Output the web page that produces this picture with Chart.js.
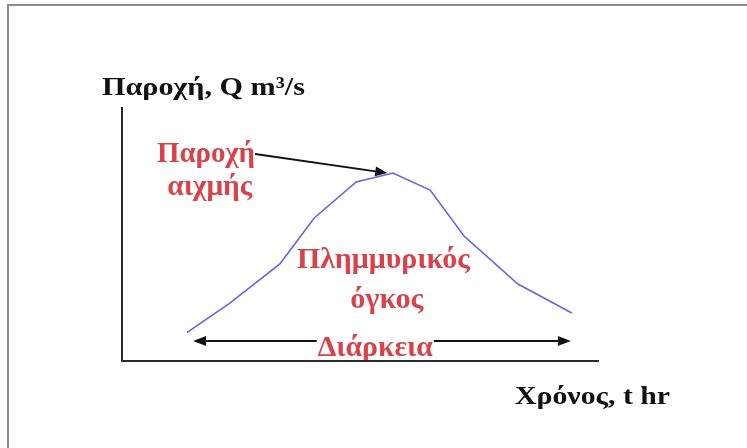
<!DOCTYPE html>
<html>
<head>
<meta charset="utf-8">
<script src="https://cdn.jsdelivr.net/npm/chart.js@4/dist/chart.umd.min.js"></script>
<style>
  html, body { margin: 0; padding: 0; background: #ffffff; }
  #wrap { width: 747px; height: 448px; position: relative; }
</style>
</head>
<body>
<div id="wrap"><canvas id="c"></canvas></div>
<script>
// Hydrograph (schematic) — time (hr) vs discharge (m³/s)
const timeHr   = [1.36, 2.26, 3.31, 4.03, 4.91, 5.68, 6.46, 7.17, 8.30, 9.43];
const flowQ    = [1.12, 2.28, 3.82, 5.63, 7.05, 7.40, 6.73, 4.92, 3.03, 1.89];
const yAxisTitle = 'Παροχή, Q m³/s';
const xAxisTitle = 'Χρόνος, t hr';
const peakLabel  = ['Παροχή', 'αιχμής'];
const volumeLabel = ['Πλημμυρικός', 'όγκος'];
const durationLabel = 'Διάρκεια';

const points = timeHr.map((t, i) => ({ x: t, y: flowQ[i] }));

// annotation layout (data units) and styles
const RED = '#d8434b';
const FONT = "'Liberation Serif', 'DejaVu Serif', serif";
const texts = [
  { t: yAxisTitle,       x: -0.42, y: 10.47, align: 'left',   size: 26, w: 203, color: '#111' },
  { t: xAxisTitle,       x: 8.24,  y: -1.69, align: 'left',   size: 26, w: 155, color: '#111' },
  { t: peakLabel[0],     x: 1.76,  y: 7.83,  align: 'center', size: 29, w: 98,  color: RED },
  { t: peakLabel[1],     x: 1.84,  y: 6.54,  align: 'center', size: 29, w: 85,  color: RED },
  { t: volumeLabel[0],   x: 5.48,  y: 3.66,  align: 'center', size: 29, w: 173, color: RED },
  { t: volumeLabel[1],   x: 5.55,  y: 2.09,  align: 'center', size: 29, w: 73,  color: RED },
  { t: durationLabel,    x: 5.31,  y: 0.20,  align: 'center', size: 29, w: 115, color: RED, bg: true }
];
const peakArrow = { x0: 2.79, y0: 8.15, x1: 5.56, y1: 7.40 };
const durArrow  = { x0: 1.49, x1: 9.41, y: 0.79 };

function arrowHead(ctx, x0, y0, x1, y1, len, half) {
  const a = Math.atan2(y1 - y0, x1 - x0);
  ctx.beginPath();
  ctx.moveTo(x1, y1);
  ctx.lineTo(x1 - len * Math.cos(a) + half * Math.sin(a), y1 - len * Math.sin(a) - half * Math.cos(a));
  ctx.lineTo(x1 - len * Math.cos(a) - half * Math.sin(a), y1 - len * Math.sin(a) + half * Math.cos(a));
  ctx.closePath();
  ctx.fill();
}

const framePlugin = {
  id: 'frame',
  beforeDraw(chart) {
    const ctx = chart.ctx;
    ctx.save();
    ctx.fillStyle = '#ffffff';
    ctx.fillRect(0, 0, chart.width, chart.height);
    ctx.strokeStyle = '#8c8c8c';
    ctx.lineWidth = 2;
    ctx.beginPath();
    ctx.moveTo(8, chart.height);
    ctx.lineTo(8, 5);
    ctx.lineTo(chart.width, 5);
    ctx.stroke();
    ctx.restore();
  }
};

const annotPlugin = {
  id: 'annot',
  afterDatasetsDraw(chart) {
    const ctx = chart.ctx;
    const xs = chart.scales.x, ys = chart.scales.y;
    ctx.save();
    // duration arrow
    const dy = ys.getPixelForValue(durArrow.y);
    const dx0 = xs.getPixelForValue(durArrow.x0), dx1 = xs.getPixelForValue(durArrow.x1);
    ctx.strokeStyle = '#111'; ctx.fillStyle = '#111'; ctx.lineWidth = 2;
    ctx.beginPath(); ctx.moveTo(dx0 + 8, dy); ctx.lineTo(dx1 - 8, dy); ctx.stroke();
    arrowHead(ctx, dx1, dy, dx0, dy, 13, 5);
    arrowHead(ctx, dx0, dy, dx1, dy, 13, 5);
    // texts
    texts.forEach(o => {
      const px = xs.getPixelForValue(o.x), py = ys.getPixelForValue(o.y);
      ctx.font = 'bold ' + o.size + 'px ' + FONT;
      const mw = ctx.measureText(o.t).width;
      const sx = o.w / mw;
      const left = o.align === 'center' ? px - o.w / 2 : px;
      if (o.bg) {
        ctx.fillStyle = '#ffffff';
        ctx.fillRect(left - 1, py - o.size * 0.68, o.w + 2, o.size * 0.5);
      }
      ctx.save();
      ctx.translate(left, py);
      ctx.scale(sx, 1);
      ctx.fillStyle = o.color;
      ctx.textAlign = 'left';
      ctx.textBaseline = 'alphabetic';
      ctx.fillText(o.t, 0, 0);
      ctx.restore();
    });
    // peak arrow
    const ax0 = xs.getPixelForValue(peakArrow.x0), ay0 = ys.getPixelForValue(peakArrow.y0);
    const ax1 = xs.getPixelForValue(peakArrow.x1), ay1 = ys.getPixelForValue(peakArrow.y1);
    ctx.strokeStyle = '#111'; ctx.fillStyle = '#111'; ctx.lineWidth = 1.8;
    const a = Math.atan2(ay1 - ay0, ax1 - ax0);
    ctx.beginPath(); ctx.moveTo(ax0, ay0); ctx.lineTo(ax1 - 10 * Math.cos(a), ay1 - 10 * Math.sin(a)); ctx.stroke();
    arrowHead(ctx, ax0, ay0, ax1, ay1, 12, 5);
    // axes
    const x0 = xs.getPixelForValue(0), y0 = ys.getPixelForValue(0);
    ctx.strokeStyle = '#2a2a2a';
    ctx.lineWidth = 2;
    ctx.beginPath();
    ctx.moveTo(x0, ys.getPixelForValue(10));
    ctx.lineTo(x0, y0);
    ctx.lineTo(xs.getPixelForValue(10), y0);
    ctx.stroke();
    ctx.restore();
  }
};

new Chart(document.getElementById('c'), {
  type: 'line',
  data: {
    datasets: [{
      data: points,
      borderColor: '#6a62e2',
      borderWidth: 1.6,
      pointRadius: 0,
      tension: 0,
      fill: false
    }]
  },
  options: {
    responsive: true,
    maintainAspectRatio: false,
    animation: false,
    events: [],
    layout: { padding: { left: 122, right: 148, top: 107, bottom: 87 } },
    plugins: { legend: { display: false }, tooltip: { enabled: false } },
    scales: {
      x: { type: 'linear', min: 0, max: 10, display: false },
      y: { type: 'linear', min: 0, max: 10, display: false }
    }
  },
  plugins: [framePlugin, annotPlugin]
});
</script>
</body>
</html>
